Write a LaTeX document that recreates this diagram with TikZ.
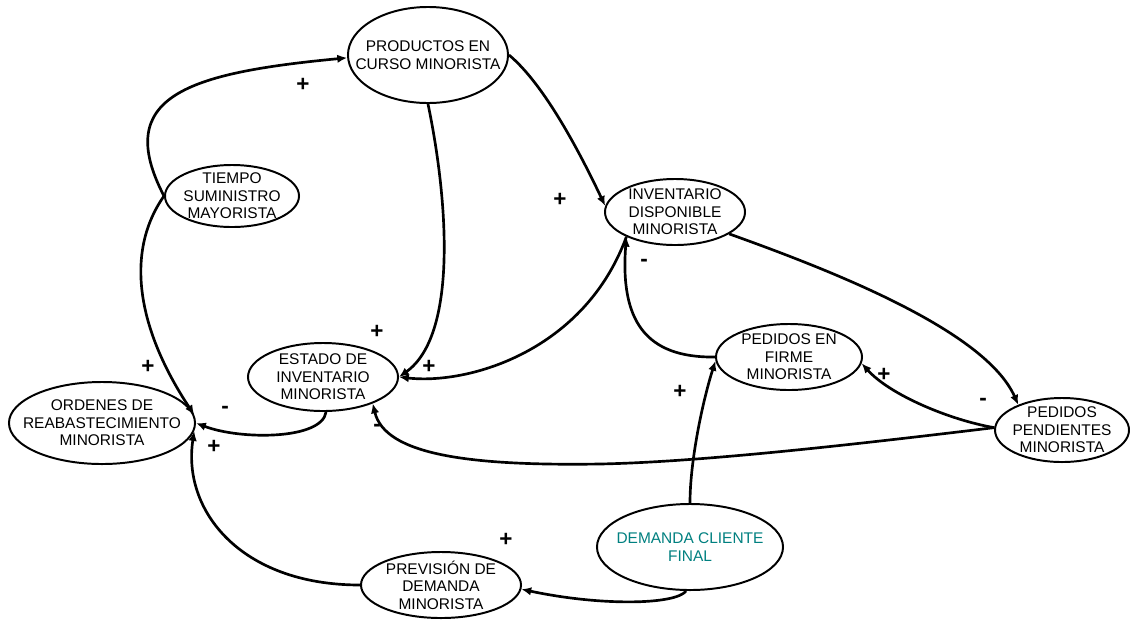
\documentclass[tikz,border=0pt]{standalone}
\usepackage{fontspec}
\setmainfont{Liberation Sans}
\usetikzlibrary{shapes.geometric,arrows.meta}
\definecolor{demanda}{RGB}{0,128,128}

\begin{document}
\begin{tikzpicture}[x=0.025cm,y=-0.025cm,
  var/.style={draw,ellipse,line width=1.4pt,fill=white,inner sep=0pt},
  every label/.style={align=center,font=\fontsize{11}{12.5}\selectfont,inner sep=0pt},
  link/.style={line width=1.9pt,-{Latex[length=7pt,width=6pt]}},
  sign/.style={font=\fontsize{16}{16}\selectfont\bfseries,inner sep=0pt}]
\useasboundingbox (0,0) rectangle (1130,620);

\node [var,minimum width=4cm,minimum height=2.4cm,label={center:PRODUCTOS EN\\CURSO MINORISTA}] (PCM) at (428,55){}; %productos en curso
\node [var,minimum width=3.35cm,minimum height=1.55cm,label={center:TIEMPO\\SUMINISTRO\\MAYORISTA}] (TSM) at (232,196){}; %tiempo suministro
\node [var,minimum width=3.5cm,minimum height=1.65cm,label={center:INVENTARIO\\DISPONIBLE\\MINORISTA}] (IDM) at (675,212){}; %inventario disponible
\node [var,minimum width=3.75cm,minimum height=1.7cm,label={center:ESTADO DE\\INVENTARIO\\MINORISTA}] (EIM) at (323,377){}; %estado de inventario
\node [var,minimum width=4.65cm,minimum height=2.05cm,label={center:ORDENES DE\\REABASTECIMIENTO\\MINORISTA}] (ORM) at (102,423){}; %ordenes
\node [var,minimum width=4cm,minimum height=1.65cm,label={center:PREVISIÓN DE\\DEMANDA\\MINORISTA}] (PDM) at (441,585){}; %prevision
\node [var,minimum width=3.65cm,minimum height=1.65cm,label={center:PEDIDOS EN\\FIRME\\MINORISTA}] (PFM) at (789,357){}; %pedidos en firme
\node [var,minimum width=3.35cm,minimum height=1.6cm,label={center:PEDIDOS\\PENDIENTES\\MINORISTA}] (PPM) at (1062,430){}; %pedidos pendientes
\node [var,minimum width=4.65cm,minimum height=2.15cm,label={[text=demanda]center:DEMANDA CLIENTE\\FINAL}] (DCF) at (690,547){}; %demanda

\draw [link] (TSM.west) .. controls (112,96) and (188,73) .. (PCM.182);
\draw [link] (TSM.west) .. controls (124,253) and (138,330) .. (ORM.5);
\draw [link] (PCM.east) .. controls (545,85) and (581,155) .. (IDM.175);
\draw [link] (PCM.south) .. controls (448,200) and (458,335) .. (EIM.east);
\draw [link] (IDM.207) .. controls (585,350) and (470,385) .. (EIM.east);
\draw [link] (PFM.west) .. controls (645,358) and (620,320) .. (IDM.207);
\draw [link] (IDM.-22) .. controls (830,270) and (985,330) .. (PPM.150);
\draw [link] (PPM.178) .. controls (950,420) and (890,395) .. (PFM.-5);
\draw [link] (PPM.178) .. controls (850,445) and (700,462) .. (600,464) .. controls (470,466) and (385,455) .. (EIM.-28);
\draw [link] (EIM.-85) .. controls (322,440) and (240,440) .. (ORM.east);
\draw [link] (PDM.west) .. controls (240,585) and (182,510) .. (ORM.-5);
\draw [link] (DCF.-95) .. controls (675,605) and (600,606) .. (PDM.-3);
\draw [link] (DCF.north) .. controls (690,460) and (703,400) .. (PFM.183);

\node [sign] (s1) at (303,85) {+};
\node [sign] (s2) at (148,367) {+};
\node [sign] (s3) at (560,200) {+};
\node [sign] (s4) at (377,332) {+};
\node [sign] (s5) at (429,367) {+};
\node [sign] (s6) at (644,263) {-};
\node [sign] (s7) at (983,402) {-};
\node [sign] (s8) at (884,375) {+};
\node [sign] (s9) at (377,428) {-};
\node [sign] (s10) at (225,410) {-};
\node [sign] (s11) at (214,447) {+};
\node [sign] (s12) at (506,540) {+};
\node [sign] (s13) at (680,392) {+};

\end{tikzpicture}
\end{document}
